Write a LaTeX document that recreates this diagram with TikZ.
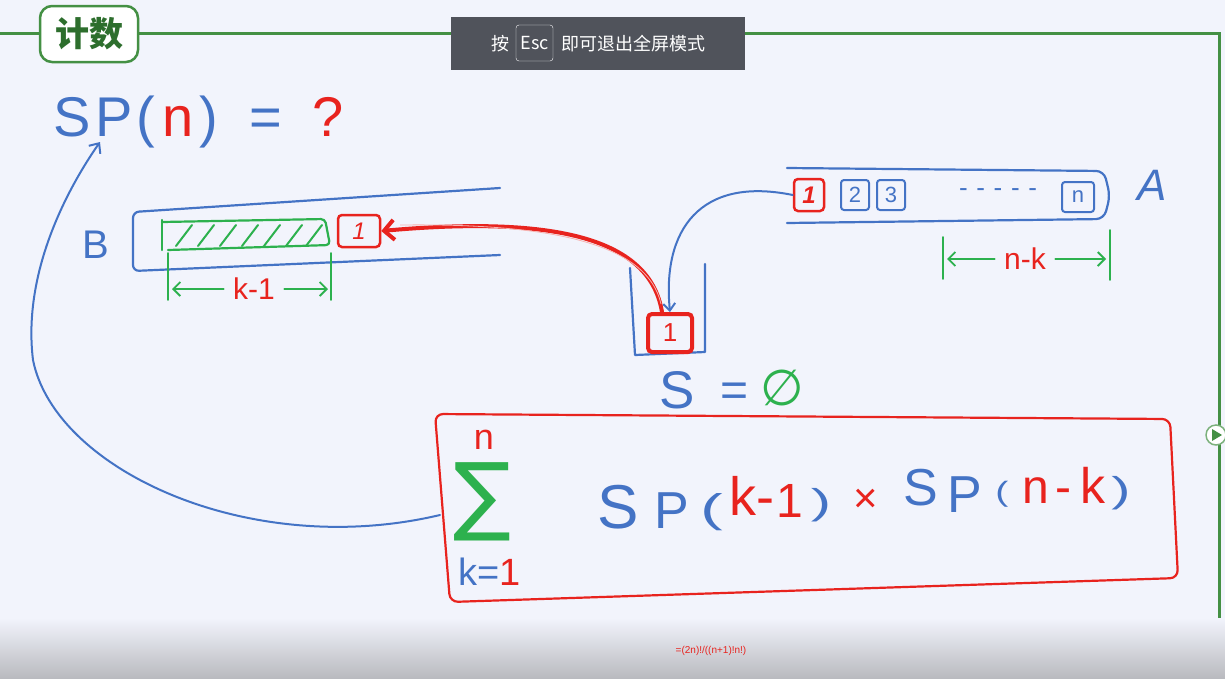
\documentclass[tikz,border=0pt]{standalone}
\usepackage{fontspec}
\setmainfont{Liberation Sans}
\newfontfamily\cjk{Noto Sans CJK SC}
\newfontfamily\djv{DejaVu Sans}
\usetikzlibrary{arrows.meta,calc}
\definecolor{bg}{HTML}{F2F4FC}
\definecolor{hblue}{HTML}{4473C5}
\definecolor{hred}{HTML}{E8231E}
\definecolor{hgreen}{HTML}{2DB14E}
\definecolor{framegreen}{HTML}{449044}
\definecolor{titlegreen}{HTML}{2D6E2D}
\definecolor{overlay}{HTML}{50535B}
\definecolor{barbottom}{HTML}{B9BABF}
\tikzset{
  hand/.style={line width=2.2pt, line cap=round, line join=round},
  bl/.style={hand, hblue},
  rd/.style={hand, hred},
  gr/.style={hand, hgreen},
  redbox/.style={draw=hred, line width=2.5pt, rounded corners=4pt, inner sep=0pt},
  bluebox/.style={draw=hblue, line width=2pt, rounded corners=3pt, inner sep=0pt, minimum width=28pt, minimum height=30pt, text=hblue, font=\fontsize{22}{22}\selectfont},
  hw/.style={inner sep=0pt, anchor=base west},
  glyph/.style={inner sep=0pt, anchor=base},
}
\begin{document}
\begin{tikzpicture}[x=1pt,y=-1pt]
\fill[bg] (0,0) rectangle (1225,678);
\useasboundingbox (0,0) rectangle (1225,678);

% frame
\draw[framegreen, line width=3pt] (0,33) -- (1219,33) -- (1219,650);
\node[draw=framegreen, line width=2.5pt, fill=white, rounded corners=12pt, minimum width=98pt, minimum height=56pt, inner sep=0pt, text=titlegreen, font=\cjk\bfseries\fontsize{34}{34}\selectfont] (title) at (89,34) {计数};

% SP(n) = ?
\foreach \x/\t/\c [count=\i] in {72/S/hblue, 114/P/hblue, 146/(/hblue, 178/n/hred, 209/)/hblue, 266/=/hblue, 328/?/hred} {
  \node[glyph, text=\c, font=\fontsize{56}{56}\selectfont] (sp\i) at (\x,136) {\t};
}

% B container
\node[text=hblue, font=\fontsize{40}{40}\selectfont] (Blabel) at (96,245) {B};
\draw[bl, rounded corners=6pt] (500,188) -- (133,212) -- (133,271) -- (500,255);
\draw[gr, rounded corners=4pt] (162,222) -- (325,219) -- (330,245) -- (168,250);
\draw[gr] (162,220) -- (162,250);
\foreach \x in {176,198,220,242,264,286,306} {
  \draw[gr, line width=2pt] (\x,246) -- (\x+16,225);
}
\node[redbox, minimum width=42pt, minimum height=32pt, text=hred, font=\fontsize{24}{24}\selectfont\itshape] (b1) at (359,231) {1};

% k-1 dimension
\coordinate (kl) at (168,253);
\coordinate (kr) at (331,253);
\draw[gr, line width=1.8pt] (kl) -- ++(0,47);
\draw[gr, line width=1.8pt] (kr) -- ++(0,47);
\node[text=hred, font=\fontsize{30}{30}\selectfont] (k1) at (254,289) {k-1};
\draw[gr, line width=1.8pt, -{Straight Barb[length=7pt,width=14pt]}] (k1.west) ++(-6,0) -- (172,289);
\draw[gr, line width=1.8pt, -{Straight Barb[length=7pt,width=14pt]}] (k1.east) ++(6,0) -- (328,289);

% A container
\node[text=hblue, font=\fontsize{44}{44}\selectfont\itshape] (Alabel) at (1152,185) {A};
\draw[bl, rounded corners=8pt] (787,168) -- (1104,171) -- (1110,196) -- (1104,219) -- (787,223);
\node[redbox, minimum width=30pt, minimum height=32pt, text=hred, font=\fontsize{24}{24}\selectfont\bfseries\itshape] (a1) at (809,195) {1};
\node[bluebox] (a2) at (855,195) {2};
\node[bluebox] (a3) at (891,195) {3};
\node[text=hblue, font=\fontsize{26}{26}\selectfont] (dots) at (998,193) {-\,\,-\,\,-\,\,-\,\,-};
\node[bluebox, minimum width=32pt] (an) at (1078,197) {n};

% n-k dimension
\coordinate (nl) at (943,237);
\coordinate (nr) at (1110,230);
\draw[gr, line width=1.8pt] (nl) -- ++(0,42);
\draw[gr, line width=1.8pt] (nr) -- ++(0,50);
\node[text=hred, font=\fontsize{30}{30}\selectfont] (nk) at (1025,259) {n-k};
\draw[gr, line width=1.8pt, -{Straight Barb[length=7pt,width=14pt]}] (nk.west) ++(-6,0) -- (947,259);
\draw[gr, line width=1.8pt, -{Straight Barb[length=7pt,width=14pt]}] (nk.east) ++(6,0) -- (1106,259);

% S container
\draw[bl] (630,268) -- (635,355) -- (705,352) -- (705,264);
\node[redbox, line width=4pt, minimum width=44pt, minimum height=38pt, text=hred, font=\fontsize{26}{26}\selectfont] (s1) at (670,333) {1};
\node[glyph, text=hblue, font=\fontsize{53}{53}\selectfont] (sS) at (677,408) {S};
\node[glyph, text=hblue, font=\fontsize{48}{48}\selectfont] (sEq) at (735,406) {=};
\node[glyph, text=hgreen, font=\djv\fontsize{50}{50}\selectfont] (sEmpty) at (782,405) {∅};

% arrows between boxes
\draw[bl, line width=2pt, -{Straight Barb[length=7pt,width=12pt]}] (a1.west) .. controls (700,176) and (662,230) .. (s1.north);
\draw[rd, line width=4pt, -{Straight Barb[length=10pt,width=20pt]}] (s1.north) ++(-8,0) .. controls (650,240) and (560,215) .. (b1.east);
\draw[hred!35, line width=0.8pt] (s1.north) ++(-9,-8) .. controls (648,246) and (560,223) .. (400,225);

% formula box
\draw[rd, rounded corners=8pt] (435,414) -- (1170,419) -- (1178,578) -- (450,602) -- cycle;
\node[text=hred, font=\fontsize{36}{36}\selectfont] (sumtop) at (484,440) {n};
\node[text=hgreen, font=\djv\fontsize{86}{86}\selectfont] (sum) at (482,502) {∑};
\node[hw] (sumbot) at (458,585) {\fontsize{38}{38}\selectfont\textcolor{hblue}{k=}\textcolor{hred}{1}};
\foreach \x/\t/\c/\s/\y/\w [count=\i] in {
   618/S/hblue/62/528/1, 672/P/hblue/52/528/1, 712/(/hblue/40/522/1.7, 743/k/hred/54/515/1, 765/-/hred/54/515/1, 790/1/hred/48/517/1, 821/)/hblue/36/514/1.7,
   866/×/hred/42/512/1,
   921/S/hblue/52/505/1, 965/P/hblue/52/512/1, 1002/(/hblue/28/501/1.4, 1036/n/hred/48/503/1, 1063/-/hred/48/503/1, 1093/k/hred/50/503/1, 1121/)/hblue/36/502/1.6} {
  \node[glyph, text=\c, font=\fontsize{\s}{\s}\selectfont] (f\i) at (\x,\y) {\scalebox{\w}[1]{\t}};
}

% long feedback arrow
\draw[bl, line width=2pt, -{Straight Barb[length=8pt,width=14pt]}] (440,515) .. controls (250,560) and (55,470) .. (33,360) .. controls (22,270) and (70,185) .. (100,142);

% overlay hint
\node[fill=overlay, minimum width=294pt, minimum height=53pt, inner sep=0pt] (hint) at (598,43.5) {};
\node[text=white, font=\cjk\fontsize{18}{18}\selectfont] (hintl) at (500,44) {按};
\node[draw=white, rounded corners=3pt, minimum width=37pt, minimum height=36pt, inner sep=0pt, text=white, font=\cjk\fontsize{18}{18}\selectfont] (esc) at (534.5,43) {Esc};
\node[text=white, font=\cjk\fontsize{18}{18}\selectfont, anchor=west, inner sep=0pt] (hintr) at (561,44) {即可退出全屏模式};

% bottom bar
\shade[top color=bg, bottom color=barbottom] (0,618) rectangle (1225,678);
\node[text=hred, font=\fontsize{10}{10}\selectfont] (cat) at (711,651) {=(2n)!/((n+1)!n!)};

% play button
\node[circle, draw=framegreen!70, line width=1.5pt, fill=white, minimum size=20pt] (play) at (1216,435) {};
\fill[framegreen] (1212,429) -- (1222,435) -- (1212,441) -- cycle;
\end{tikzpicture}
\end{document}
